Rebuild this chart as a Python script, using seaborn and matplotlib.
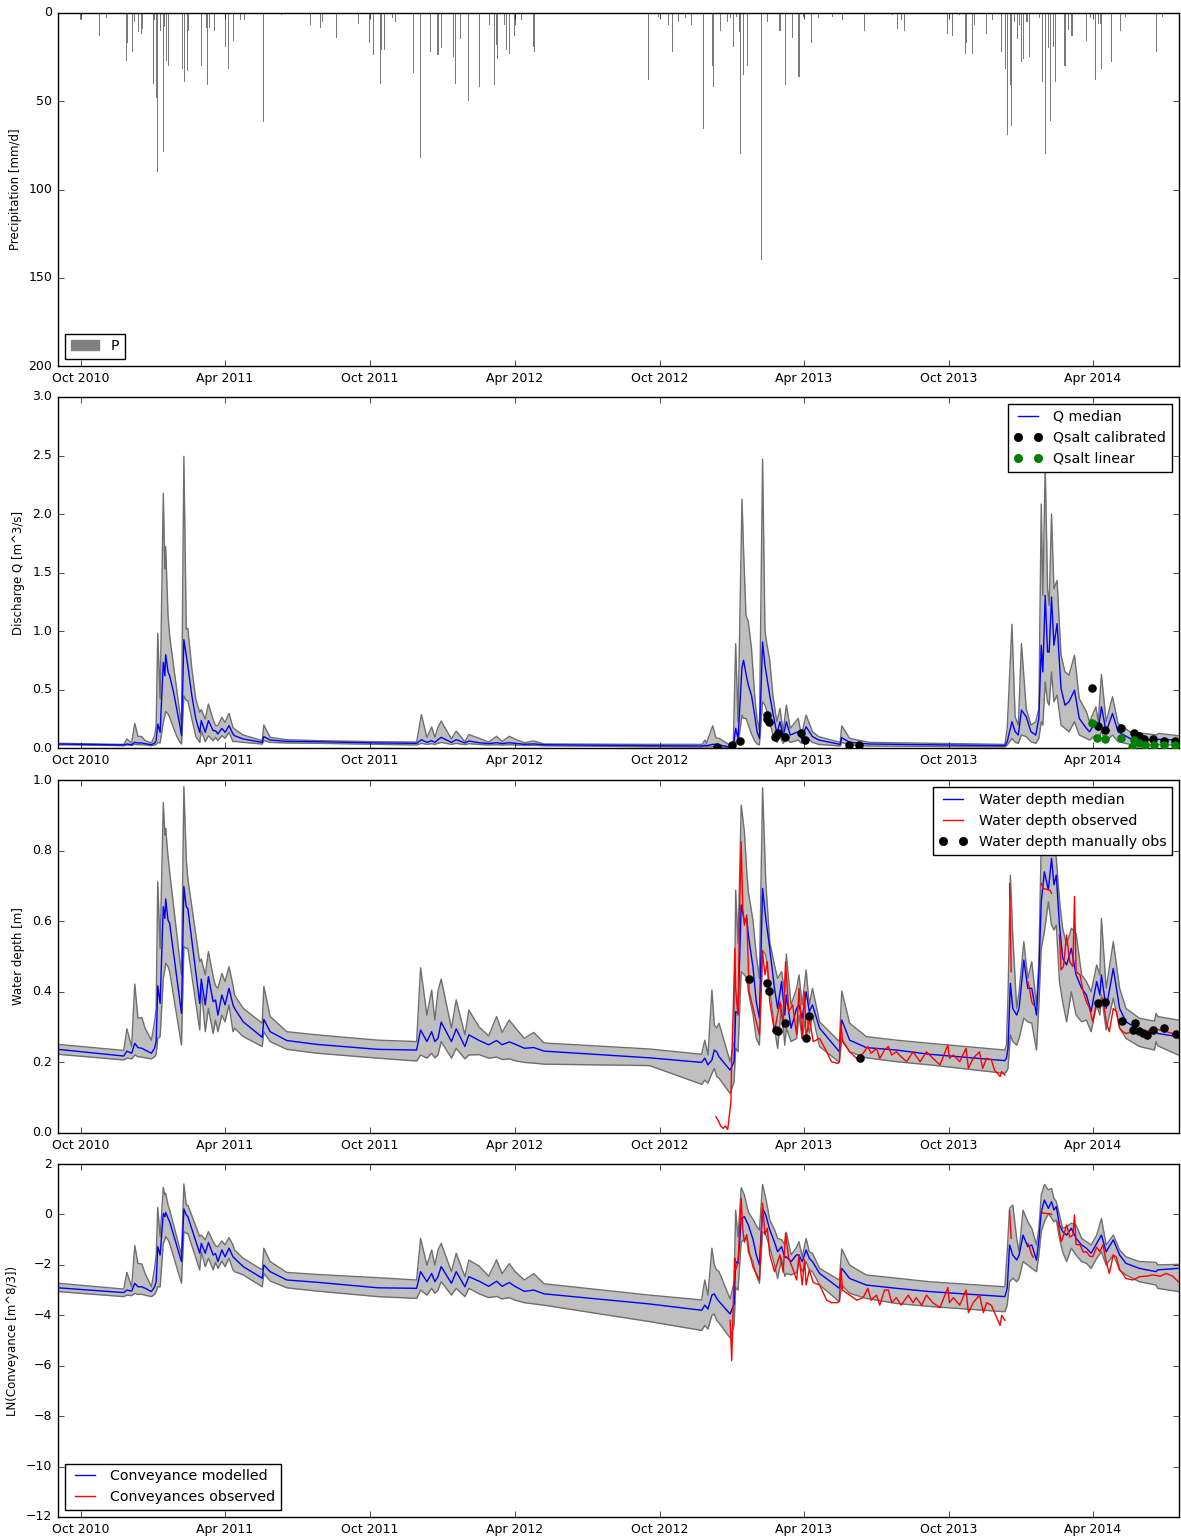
import numpy as np
import pandas as pd
import matplotlib
matplotlib.use("Agg")
import matplotlib.pyplot as plt
import matplotlib.dates as mdates
import matplotlib.ticker as mticker
from matplotlib.lines import Line2D
from matplotlib.patches import Patch
import seaborn as sns

plt.style.use("classic")
plt.rcParams.update({
    "figure.facecolor": "white",
    "savefig.facecolor": "white",
    "font.family": ["DejaVu Sans"],
    "font.size": 9,
    "xtick.labelsize": 9,
    "ytick.labelsize": 9,
    "legend.fontsize": 10.2,
})

# time axis: days counted from this reference date
DAY0 = pd.Timestamp("2010-09-01")
X_START, X_END = pd.Timestamp("2010-09-02"), pd.Timestamp("2014-07-19")

# ---------------- daily precipitation [mm/d] ----------------
P_DAY = [29, 53, 62, 87, 89, 95, 98, 103, 107, 108, 122, 123, 126, 127, 131, 134, 136, 138, 140,
         158, 161, 164, 166, 182, 189, 190, 192, 199, 212, 216, 223, 231, 236, 260, 283, 320, 333,
         335, 353, 381, 395, 400, 408, 410, 414, 424, 427, 450, 459, 472, 481, 482, 485, 501, 503,
         509, 520, 533, 546, 552, 555, 556, 565, 568, 571, 578, 579, 587, 602, 603,
         747, 760, 772, 777, 785, 794, 801, 816, 828, 829, 838, 847, 850, 854, 858, 862, 863, 867,
         872, 890, 897, 913, 920, 929, 937, 943, 953, 962, 979, 992, 1020, 1055, 1062, 1066, 1070,
         1124, 1131, 1140, 1147, 1148, 1156, 1159, 1174, 1182, 1193, 1198, 1200, 1204, 1205, 1206,
         1209, 1213, 1216, 1218, 1220, 1225, 1228, 1241, 1244, 1245, 1248, 1252, 1255, 1258, 1261,
         1273, 1274, 1277, 1281, 1283, 1300, 1305, 1312, 1315, 1318, 1319, 1332, 1343, 1350, 1388, 1396]
P_MM = [3.8, 13, 3, 27, 17, 22, 5, 11, 12, 9, 40, 4, 48, 90, 10, 79, 8, 27, 30,
        32, 39, 33, 10, 30, 8.5, 41, 8.5, 10, 19, 32, 16, 4, 4, 62, 1, 7, 8.5,
        5, 14, 6, 17, 24, 40, 21, 21, 3, 5, 34, 82, 22, 24, 6, 20, 25, 40,
        15, 50, 42, 7, 41, 18, 26, 7, 21, 23, 13, 7, 4, 19, 22,
        38, 2, 7, 22, 5, 3, 7, 66, 30, 42, 10, 5, 3, 19, 2, 11, 80, 35,
        30, 140, 5, 10, 41, 14, 36, 2, 17, 3, 2, 4, 10, 1, 9, 4, 10,
        12, 13, 1, 23, 17, 23, 7, 12, 4, 22, 32, 69, 41, 64, 51,
        5, 15, 7, 28, 26, 5, 25, 3, 27, 39, 80, 20, 61, 19, 39,
        30, 19, 9.5, 13, 13, 16, 3, 38, 6, 6, 32, 28, 10, 2, 22, 2]

# ---------------- discharge Q [m^3/s]: median and uncertainty band ----------------
Q_DAY = [1, 84, 88, 94, 98, 102, 107, 111, 119, 123,
         125, 127, 130, 134, 136, 137, 140, 142, 147, 151, 155, 157, 160,
         163, 165, 170, 175, 180, 182, 187, 191, 197, 200, 203, 208,
         212, 217, 222, 224, 235, 259, 261, 269, 290, 328,
         405, 454, 460, 467, 473, 477, 481, 485, 498, 504,
         515, 520, 533, 545, 555, 562, 571, 578, 590, 602,
         615, 748, 815, 818, 820, 828, 832, 836, 851, 854,
         857, 860, 865, 867, 870, 873, 877, 881, 884, 887, 891, 894, 896, 900, 904,
         909, 913, 917, 921, 926, 936, 940, 946, 954, 962,
         989, 991, 1001, 1026, 1197, 1200, 1206, 1210, 1214, 1218,
         1224, 1230, 1236, 1240, 1243, 1245, 1248, 1251, 1253, 1256,
         1259, 1263, 1268, 1273, 1278, 1285, 1291, 1300, 1304, 1312,
         1315, 1319, 1325, 1333, 1340, 1355, 1389, 1391, 1416]
Q_MED = [0.034, 0.026, 0.034, 0.028, 0.048, 0.043, 0.043, 0.037, 0.028, 0.043,
         0.063, 0.205, 0.134, 0.732, 0.618, 0.798, 0.652, 0.618, 0.475, 0.330, 0.190, 0.105, 0.926,
         0.789, 0.704, 0.450, 0.250, 0.134, 0.234, 0.134, 0.234, 0.148, 0.148, 0.120, 0.168,
         0.134, 0.191, 0.120, 0.105, 0.077, 0.048, 0.097, 0.068, 0.057, 0.054,
         0.043, 0.040, 0.071, 0.048, 0.063, 0.048, 0.071, 0.091, 0.048, 0.071,
         0.043, 0.060, 0.045, 0.038, 0.045, 0.038, 0.045, 0.040, 0.032, 0.035,
         0.028, 0.020, 0.017, 0.023, 0.020, 0.031, 0.031, 0.026, 0.006, 0.014,
         0.168, 0.082, 0.693, 0.750, 0.636, 0.537, 0.450, 0.280, 0.140, 0.082, 0.906, 0.707, 0.622, 0.450, 0.300,
         0.125, 0.224, 0.097, 0.224, 0.111, 0.139, 0.082, 0.182, 0.097, 0.068,
         0.031, 0.088, 0.048, 0.034, 0.020, 0.054, 0.224, 0.139, 0.111, 0.324,
         0.267, 0.139, 0.111, 0.253, 0.878, 0.651, 1.304, 0.821, 0.821, 1.290,
         0.878, 1.063, 0.509, 0.366, 0.395, 0.494, 0.253, 0.168, 0.139, 0.224,
         0.153, 0.352, 0.139, 0.295, 0.139, 0.082, 0.068, 0.074, 0.068]
Q_LO = [0.028, 0.020, 0.026, 0.023, 0.031, 0.028, 0.028, 0.026, 0.020, 0.026,
        0.031, 0.048, 0.043, 0.219, 0.276, 0.311, 0.291, 0.262, 0.170, 0.100, 0.050, 0.034, 0.447,
        0.405, 0.405, 0.250, 0.100, 0.048, 0.148, 0.054, 0.105, 0.063, 0.091, 0.063, 0.105,
        0.083, 0.134, 0.054, 0.057, 0.048, 0.034, 0.063, 0.048, 0.043, 0.040,
        0.031, 0.026, 0.040, 0.031, 0.037, 0.031, 0.040, 0.048, 0.031, 0.040,
        0.028, 0.037, 0.030, 0.026, 0.028, 0.025, 0.028, 0.026, 0.022, 0.023,
        0.019, 0.011, 0.009, 0.011, 0.009, 0.011, 0.011, 0.009, 0.003, 0.006,
        0.054, 0.031, 0.281, 0.253, 0.253, 0.196, 0.120, 0.060, 0.035, 0.026, 0.395, 0.366, 0.324, 0.220, 0.120,
        0.048, 0.097, 0.040, 0.082, 0.048, 0.068, 0.040, 0.097, 0.048, 0.031,
        0.017, 0.048, 0.026, 0.017, 0.009, 0.026, 0.082, 0.048, 0.040, 0.111,
        0.097, 0.054, 0.040, 0.082, 0.224, 0.196, 0.565, 0.395, 0.366, 0.651,
        0.395, 0.452, 0.196, 0.168, 0.139, 0.224, 0.111, 0.082, 0.068, 0.111,
        0.068, 0.139, 0.054, 0.111, 0.054, 0.031, 0.026, 0.028, 0.026]
Q_HI = [0.040, 0.031, 0.077, 0.043, 0.211, 0.100, 0.097, 0.063, 0.043, 0.105,
        0.190, 0.980, 0.419, 2.177, 1.530, 1.721, 1.131, 0.960, 0.700, 0.500, 0.290, 0.191, 2.493,
        1.017, 1.023, 0.680, 0.420, 0.305, 0.328, 0.248, 0.376, 0.242, 0.191, 0.191, 0.262,
        0.219, 0.296, 0.177, 0.162, 0.111, 0.063, 0.197, 0.091, 0.071, 0.063,
        0.054, 0.051, 0.285, 0.091, 0.180, 0.091, 0.177, 0.230, 0.077, 0.145,
        0.054, 0.115, 0.083, 0.050, 0.100, 0.055, 0.100, 0.077, 0.045, 0.060,
        0.035, 0.031, 0.031, 0.068, 0.040, 0.190, 0.088, 0.082, 0.020, 0.026,
        0.892, 0.224, 2.128, 1.688, 1.134, 1.077, 0.850, 0.450, 0.250, 0.153, 2.469, 1.006, 0.906, 0.750, 0.450,
        0.224, 0.338, 0.139, 0.366, 0.168, 0.253, 0.111, 0.281, 0.139, 0.097,
        0.048, 0.190, 0.082, 0.048, 0.031, 0.168, 1.057, 0.267, 0.196, 0.892,
        0.338, 0.196, 0.224, 0.338, 2.085, 1.304, 2.412, 1.361, 1.219, 2.000,
        1.361, 1.432, 0.793, 0.651, 0.622, 0.793, 0.423, 0.310, 0.224, 0.352,
        0.224, 0.628, 0.224, 0.438, 0.210, 0.139, 0.111, 0.125, 0.105]

# salt-dilution gaugings
QC_DAY = [834, 852, 862, 896, 897, 899, 907, 911, 919, 939, 945, 1000, 1013,
          1307, 1315, 1324, 1344, 1360, 1366, 1373, 1384, 1398, 1412]
QC_VAL = [0.006, 0.026, 0.060, 0.280, 0.250, 0.220, 0.090, 0.130, 0.090, 0.130, 0.070, 0.026, 0.026,
          0.510, 0.190, 0.150, 0.170, 0.130, 0.105, 0.080, 0.074, 0.060, 0.060]
QL_DAY = [1307, 1313, 1324, 1344, 1357, 1360, 1367, 1374, 1385, 1398, 1412]
QL_VAL = [0.216, 0.088, 0.074, 0.082, 0.011, 0.068, 0.045, 0.026, 0.026, 0.026, 0.026]

# ---------------- water depth [m] ----------------
H_DAY = [1, 84, 88, 94, 98, 102, 107, 111, 119, 123,
         125, 127, 130, 134, 136, 137, 140, 142, 157, 160,
         163, 165, 180, 182, 187, 191, 197, 200, 203, 208,
         212, 217, 222, 224, 235, 259, 261, 269, 290, 328,
         405, 454, 459, 467, 473, 477, 481, 485, 498, 504,
         515, 520, 533, 545, 555, 562, 571, 578, 590, 602,
         615, 748, 814, 818, 822, 827, 830, 833, 836, 850,
         855, 857, 860, 864, 868, 871, 873, 879, 883, 887, 891, 895,
         900, 906, 910, 915, 919, 921, 927, 934, 937, 941, 946, 950,
         954, 963, 988, 991, 1001, 1022, 1060, 1102, 1197, 1199,
         1201, 1204, 1207, 1212, 1215, 1221, 1226, 1231, 1237, 1240,
         1243, 1247, 1252, 1256, 1259, 1262, 1266, 1270, 1275, 1281,
         1287, 1294, 1300, 1306, 1313, 1317, 1319, 1325, 1334, 1342,
         1350, 1367, 1386, 1388, 1390, 1416]
H_MED = [0.237, 0.218, 0.232, 0.226, 0.254, 0.242, 0.240, 0.235, 0.226, 0.240,
         0.259, 0.417, 0.367, 0.641, 0.608, 0.663, 0.603, 0.594, 0.339, 0.698,
         0.641, 0.636, 0.367, 0.436, 0.363, 0.443, 0.372, 0.377, 0.334, 0.391,
         0.363, 0.410, 0.363, 0.353, 0.315, 0.271, 0.322, 0.287, 0.262, 0.251,
         0.237, 0.235, 0.292, 0.259, 0.287, 0.259, 0.268, 0.314, 0.259, 0.295,
         0.245, 0.278, 0.262, 0.250, 0.262, 0.250, 0.258, 0.252, 0.240, 0.242,
         0.232, 0.213, 0.200, 0.212, 0.193, 0.207, 0.235, 0.230, 0.216, 0.178,
         0.202, 0.344, 0.339, 0.646, 0.599, 0.608, 0.561, 0.467, 0.372, 0.325, 0.693, 0.608,
         0.523, 0.410, 0.353, 0.429, 0.334, 0.391, 0.297, 0.353, 0.363, 0.325, 0.400, 0.344,
         0.363, 0.297, 0.230, 0.320, 0.263, 0.242, 0.235, 0.223, 0.205, 0.212,
         0.240, 0.424, 0.353, 0.334, 0.353, 0.490, 0.410, 0.410, 0.334, 0.457,
         0.655, 0.740, 0.688, 0.778, 0.703, 0.731, 0.589, 0.495, 0.476, 0.523,
         0.448, 0.410, 0.391, 0.344, 0.429, 0.391, 0.448, 0.353, 0.466, 0.353,
         0.315, 0.292, 0.282, 0.289, 0.282, 0.273]
H_LO = [0.223, 0.207, 0.212, 0.210, 0.221, 0.216, 0.215, 0.213, 0.210, 0.216,
        0.223, 0.268, 0.273, 0.438, 0.462, 0.481, 0.471, 0.457, 0.249, 0.528,
        0.523, 0.523, 0.292, 0.410, 0.287, 0.353, 0.282, 0.320, 0.287, 0.334,
        0.315, 0.363, 0.287, 0.297, 0.273, 0.245, 0.287, 0.259, 0.237, 0.226,
        0.212, 0.204, 0.221, 0.212, 0.226, 0.213, 0.221, 0.259, 0.212, 0.240,
        0.210, 0.221, 0.222, 0.212, 0.215, 0.208, 0.210, 0.205, 0.200, 0.198,
        0.195, 0.191, 0.138, 0.150, 0.141, 0.169, 0.183, 0.160, 0.155, 0.112,
        0.145, 0.240, 0.230, 0.457, 0.448, 0.438, 0.400, 0.334, 0.268, 0.249, 0.518, 0.504,
        0.410, 0.297, 0.240, 0.363, 0.249, 0.297, 0.259, 0.268, 0.334, 0.268, 0.334, 0.282,
        0.334, 0.245, 0.200, 0.268, 0.230, 0.213, 0.202, 0.193, 0.169, 0.174,
        0.183, 0.278, 0.259, 0.249, 0.268, 0.325, 0.315, 0.311, 0.235, 0.363,
        0.523, 0.570, 0.655, 0.589, 0.575, 0.589, 0.429, 0.372, 0.315, 0.400,
        0.334, 0.315, 0.320, 0.287, 0.363, 0.334, 0.391, 0.292, 0.382, 0.297,
        0.268, 0.245, 0.235, 0.259, 0.247, 0.221]
H_HI = [0.251, 0.234, 0.295, 0.245, 0.422, 0.325, 0.327, 0.297, 0.263, 0.315,
        0.353, 0.712, 0.523, 0.936, 0.844, 0.863, 0.783, 0.740, 0.448, 0.981,
        0.778, 0.720, 0.485, 0.493, 0.448, 0.514, 0.443, 0.417, 0.410, 0.452,
        0.429, 0.471, 0.419, 0.391, 0.353, 0.311, 0.415, 0.330, 0.287, 0.278,
        0.263, 0.259, 0.468, 0.334, 0.405, 0.320, 0.402, 0.436, 0.297, 0.377,
        0.278, 0.348, 0.300, 0.275, 0.330, 0.285, 0.320, 0.300, 0.268, 0.285,
        0.255, 0.238, 0.223, 0.263, 0.221, 0.405, 0.306, 0.297, 0.311, 0.202,
        0.259, 0.688, 0.537, 0.929, 0.854, 0.740, 0.684, 0.600, 0.504, 0.438, 0.978, 0.712,
        0.542, 0.476, 0.438, 0.457, 0.400, 0.507, 0.363, 0.410, 0.448, 0.363, 0.462, 0.363,
        0.410, 0.315, 0.259, 0.402, 0.311, 0.273, 0.263, 0.254, 0.235, 0.249,
        0.386, 0.731, 0.561, 0.353, 0.400, 0.542, 0.438, 0.485, 0.363, 0.485,
        0.825, 0.920, 0.872, 0.901, 0.825, 0.778, 0.660, 0.580, 0.533, 0.580,
        0.566, 0.448, 0.429, 0.400, 0.476, 0.448, 0.608, 0.410, 0.542, 0.410,
        0.353, 0.325, 0.317, 0.339, 0.330, 0.320]

# logger water depth (NaN marks a gap in the record)
HO_DAY = [832, 835, 838, 841, 844, 847, 851, 852, 854, 856,
          857, 859, 860, 862, 864, 866, 868, 871, 874, 879,
          887, 891, 894, 897, 900, 906, 913, 917, 920, 924,
          929, 934, 937, 941, 944, 946, 950, 955, 963, 972,
          978, 986, 988, 990, 992, 1001, 1010, 1018, 1024, 1028,
          1035, 1039, 1045, 1050, 1054, 1060, 1066, 1073, 1081, 1090,
          1098, 1106, 1115, 1125, 1127, 1132, 1140, 1148, 1151, 1157,
          1165, 1169, 1174, 1180, 1184, 1191, 1193, 1197, 1200, 1203,
          1205, 1215, 1226, 1228, 1231, 1233, 1238, 1243, 1245, 1254,
          1256, 1260, 1266, 1268, 1271, 1275, 1279, 1283, 1285, 1287,
          1292, 1296, 1300, 1304, 1308, 1313, 1317, 1321, 1325, 1329,
          1334, 1338, 1342, 1346, 1350, 1359, 1367, 1376, 1384, 1393,
          1401, 1409, 1416]
HO_VAL = [0.046, 0.035, 0.020, 0.013, 0.020, 0.010, 0.089, 0.212, 0.353, 0.523,
          0.410, 0.353, 0.334, 0.636, 0.825, 0.636, 0.589, 0.618, 0.400, 0.353,
          0.278, 0.514, 0.448, 0.485, 0.372, 0.287, 0.372, 0.297, 0.485, 0.344,
          0.363, 0.278, 0.410, 0.268, 0.400, 0.268, 0.325, 0.259, 0.268, 0.230,
          0.202, 0.197, 0.202, 0.315, 0.259, 0.230, 0.211, 0.226, 0.245, 0.226,
          0.240, 0.211, 0.235, 0.245, 0.221, 0.230, 0.216, 0.202, 0.230, 0.202,
          0.230, 0.212, 0.193, 0.249, 0.212, 0.221, 0.202, 0.240, 0.183, 0.212,
          0.230, 0.183, 0.212, 0.207, 0.178, 0.160, 0.174, 0.164, np.nan, 0.707,
          0.457, np.nan, 0.429, 0.410, 0.372, 0.363, np.nan, 0.707, 0.693, 0.688,
          0.679, np.nan, 0.561, 0.462, 0.471, 0.561, 0.485, 0.471, 0.670, 0.457,
          0.448, 0.400, 0.372, 0.353, 0.315, 0.372, 0.353, 0.382, 0.315, 0.287,
          0.353, 0.344, 0.297, 0.287, 0.282, 0.287, 0.292, 0.287, 0.297, 0.292,
          0.287, 0.282, 0.268]

# manual staff-gauge readings
HM_DAY = [874, 897, 899, 908, 911, 919, 946, 949, 1014, 1315,
          1324, 1345, 1359, 1361, 1366, 1372, 1377, 1384, 1398, 1413]
HM_VAL = [0.436, 0.424, 0.402, 0.292, 0.289, 0.313, 0.270, 0.331, 0.213, 0.369,
          0.372, 0.317, 0.292, 0.311, 0.289, 0.284, 0.278, 0.292, 0.298, 0.280]

# ---------------- ln(conveyance) [m^8/3] ----------------
K_DAY = [1, 84, 88, 94, 98, 102, 107, 111, 119, 123,
         125, 127, 130, 134, 136, 137, 140, 142, 157, 160,
         163, 165, 180, 182, 187, 191, 197, 200, 203, 208,
         212, 217, 222, 224, 235, 259, 261, 269, 290, 328,
         405, 454, 459, 467, 473, 477, 481, 485, 498, 504,
         515, 520, 533, 545, 555, 562, 571, 578, 590, 602,
         615, 748, 814, 818, 822, 827, 830, 833, 836, 850,
         855, 857, 860, 864, 868, 871, 873, 879, 883, 887, 891, 895,
         900, 906, 910, 915, 919, 921, 927, 934, 937, 941, 946, 950,
         954, 963, 988, 991, 1001, 1022, 1060, 1102, 1197, 1200,
         1203, 1207, 1212, 1215, 1220, 1226, 1231, 1237, 1240, 1243,
         1247, 1252, 1256, 1259, 1262, 1266, 1270, 1275, 1281, 1287,
         1294, 1300, 1306, 1313, 1319, 1325, 1334, 1342, 1350, 1367,
         1388, 1390, 1416]
K_MED = [-2.91, -3.10, -3.00, -3.04, -2.73, -2.87, -2.87, -2.93, -3.06, -2.87,
         -2.67, -1.28, -1.61, 0.04, -0.09, 0.08, -0.15, -0.29, -1.87, 0.22,
         -0.02, -0.09, -1.54, -1.15, -1.54, -1.11, -1.61, -1.55, -1.87, -1.41,
         -1.68, -1.34, -1.68, -1.74, -2.07, -2.53, -2.01, -2.27, -2.60, -2.69,
         -2.91, -2.93, -2.27, -2.67, -2.34, -2.67, -2.47, -2.07, -2.73, -2.27,
         -2.87, -2.47, -2.65, -2.85, -2.65, -2.85, -2.70, -2.85, -3.05, -3.00,
         -3.15, -3.55, -3.80, -3.60, -3.75, -3.20, -3.15, -3.33, -3.45, -3.95,
         -3.55, -1.87, -1.95, -0.16, -0.09, -0.29, -0.42, -1.00, -1.60, -2.00, 0.24, -0.02,
         -0.60, -1.10, -1.48, -1.28, -1.70, -1.68, -1.87, -1.60, -1.61, -1.87, -1.41, -1.74,
         -1.87, -2.34, -2.93, -2.14, -2.54, -2.80, -2.93, -3.06, -3.26, -2.93,
         -1.21, -1.61, -1.81, -1.61, -0.82, -1.28, -1.21, -1.81, -1.01, 0.11,
         0.57, 0.24, 0.51, 0.18, 0.31, -0.42, -0.68, -0.82, -0.55, -0.95,
         -1.21, -1.34, -1.54, -1.15, -0.82, -1.48, -1.01, -1.61, -1.94, -2.14,
         -2.27, -2.20, -2.14]
K_LO = [-3.06, -3.26, -3.20, -3.22, -3.13, -3.17, -3.17, -3.20, -3.26, -3.17,
        -3.06, -2.87, -2.87, -1.15, -1.01, -0.88, -1.01, -1.15, -2.73, -0.68,
        -0.75, -0.75, -2.20, -1.48, -2.07, -1.74, -2.20, -1.90, -2.14, -1.85,
        -2.07, -1.74, -2.20, -2.27, -2.40, -2.87, -2.34, -2.64, -2.91, -3.04,
        -3.26, -3.33, -3.00, -3.20, -2.93, -3.13, -3.00, -2.67, -3.20, -2.93,
        -3.26, -2.93, -3.15, -3.30, -3.25, -3.35, -3.30, -3.40, -3.50, -3.55,
        -3.60, -4.25, -4.60, -4.40, -4.55, -4.00, -3.95, -4.20, -4.30, -4.90,
        -4.40, -2.90, -3.00, -1.08, -1.00, -0.95, -1.50, -1.90, -2.40, -2.73, -0.68, -0.80,
        -1.30, -2.00, -2.54, -1.75, -2.45, -2.34, -2.40, -2.30, -1.88, -2.27, -1.88, -2.20,
        -2.27, -2.80, -3.46, -2.80, -3.13, -3.33, -3.53, -3.65, -3.86, -3.60,
        -2.67, -2.53, -2.67, -2.53, -1.87, -2.01, -2.14, -2.27, -1.61, -0.68,
        -0.29, 0.04, -0.15, -0.29, -0.22, -0.95, -1.48, -1.87, -1.34, -1.61,
        -1.87, -1.94, -2.14, -1.74, -1.48, -2.01, -1.61, -2.20, -2.40, -2.67,
        -2.80, -2.93, -3.06]
K_HI = [-2.73, -2.96, -2.30, -2.87, -1.24, -1.94, -1.97, -2.34, -2.87, -2.14,
        -1.61, 0.28, -0.88, 1.07, 0.77, 0.84, 0.37, 0.18, -1.61, 1.21,
        0.37, 0.37, -0.88, -0.82, -1.01, -0.68, -1.08, -1.25, -1.28, -1.05,
        -1.21, -0.92, -1.21, -1.41, -1.74, -2.20, -1.34, -1.87, -2.30, -2.38,
        -2.51, -2.60, -0.95, -2.01, -1.41, -2.01, -1.41, -1.15, -2.27, -1.54,
        -2.47, -1.81, -2.05, -2.45, -1.80, -2.35, -1.95, -2.25, -2.60, -2.35,
        -2.75, -3.20, -3.39, -2.60, -3.20, -1.34, -2.00, -2.20, -2.27, -3.35,
        -2.70, 0.17, -0.90, 1.06, 0.77, 0.37, 0.10, -0.20, -0.45, -0.62, 1.19, 0.64,
        -0.20, -0.60, -0.95, -1.00, -1.20, -0.71, -1.60, -1.30, -1.08, -1.68, -0.95, -1.48,
        -1.54, -2.14, -2.60, -1.37, -2.01, -2.40, -2.53, -2.67, -2.87, -1.48,
        0.24, 0.37, -0.95, -1.48, 0.17, -0.29, -0.55, -1.21, -0.55, 0.77,
        1.19, 0.97, 1.03, 0.64, 0.51, -0.02, -0.55, -0.49, -0.35, -0.42,
        -0.95, -1.08, -1.21, -0.82, -0.16, -1.21, -0.82, -1.41, -1.68, -1.87,
        -1.90, -2.00, -1.98]

# conveyance derived from observed depth (NaN marks a gap)
KO_DAY = [850, 852, 854, 856, 857, 860, 864, 866, 868, 871,
          874, 879, 887, 891, 894, 897, 900, 906, 913, 917,
          920, 924, 929, 934, 937, 941, 944, 946, 950, 955,
          963, 972, 978, 986, 988, 990, 992, 1001, 1010, 1018,
          1024, 1028, 1035, 1039, 1045, 1050, 1054, 1060, 1066, 1075,
          1081, 1085, 1092, 1098, 1106, 1115, 1125, 1127, 1132, 1140,
          1148, 1151, 1157, 1165, 1170, 1174, 1180, 1184, 1191, 1193,
          1197, 1200, 1203, 1205, 1215, 1226, 1228, 1231, 1233, 1238,
          1243, 1245, 1254, 1256, 1260, 1264, 1268, 1270, 1275, 1279,
          1283, 1285, 1287, 1292, 1296, 1300, 1304, 1308, 1313, 1317,
          1321, 1325, 1329, 1334, 1338, 1342, 1346, 1350, 1359, 1367,
          1376, 1384, 1393, 1401, 1409, 1416]
KO_VAL = [-4.20, -5.80, -3.50, -1.74, -2.20, -1.90, 0.64, -0.60, -1.10, -0.80,
          -1.48, -2.10, -2.60, 0.44, -0.80, -0.55, -1.60, -2.27, -1.60, -2.30,
          -0.75, -1.74, -2.14, -2.60, -1.60, -2.80, -1.80, -2.80, -2.20, -2.70,
          -2.80, -3.40, -3.50, -3.50, -3.40, -2.14, -3.00, -3.20, -3.40, -3.30,
          -2.93, -3.40, -3.20, -3.60, -3.00, -3.00, -3.50, -3.30, -3.60, -3.20,
          -3.50, -3.30, -3.60, -3.20, -3.50, -3.70, -2.90, -3.50, -3.30, -3.60,
          -3.00, -3.90, -3.50, -3.20, -3.90, -3.50, -3.60, -3.90, -4.40, -4.00,
          -4.20, np.nan, 0.13, -0.95, np.nan, -1.15, -1.30, -1.60, -1.70, np.nan,
          0.13, 0.05, 0.03, 0.00, np.nan, -0.30, -1.08, -0.95, -0.42, -0.90,
          -0.82, -0.02, -1.20, -1.20, -1.50, -1.48, -1.65, -1.68, -1.30, -1.48,
          -1.20, -1.87, -2.34, -1.61, -1.70, -2.20, -2.35, -2.54, -2.60, -2.47,
          -2.45, -2.40, -2.45, -2.34, -2.45, -2.67]


def to_dates(days):
    return DAY0 + pd.to_timedelta(np.asarray(days, dtype=float), unit="D")


def band_frame(days, med, lo, hi):
    return pd.DataFrame({"date": to_dates(days), "med": med, "lo": lo, "hi": hi})


def gap_frame(days, vals):
    df = pd.DataFrame({"date": to_dates(days), "val": np.asarray(vals, dtype=float)})
    df["seg"] = df["val"].isna().cumsum()
    return df.dropna()


BAND_FILL = "#bfbfbf"
BAND_EDGE = "#6f6f6f"


def draw_band(ax, df):
    ax.fill_between(df["date"], df["lo"], df["hi"], color=BAND_FILL, lw=0, zorder=1)
    for col in ("lo", "hi"):
        sns.lineplot(data=df, x="date", y=col, color=BAND_EDGE, lw=1.0, ax=ax,
                     legend=False, zorder=2, sort=False)
    sns.lineplot(data=df, x="date", y="med", color="b", lw=1.0, ax=ax,
                 legend=False, zorder=3, sort=False)


def draw_gappy(ax, df, color):
    sns.lineplot(data=df, x="date", y="val", units="seg", estimator=None,
                 color=color, lw=1.0, ax=ax, legend=False, zorder=4, sort=False)


def style_axis(ax, ylabel, ylim, yticks):
    ax.set_xlim(X_START, X_END)
    ax.set_ylim(*ylim)
    ax.set_yticks(yticks)
    ax.xaxis.set_major_locator(mdates.MonthLocator(bymonth=(4, 10)))
    ax.xaxis.set_major_formatter(mdates.DateFormatter("%b %Y"))
    ax.set_xlabel("")
    ax.set_ylabel(ylabel, fontsize=8.5)
    ax.tick_params(direction="in", top=True, right=True, length=4)


fig = plt.figure(figsize=(11.81, 15.36), dpi=100)
L, W = 58 / 1181, (1179 - 58) / 1181


def add_panel(top_px, bottom_px):
    return fig.add_axes([L, 1 - bottom_px / 1536, W, (bottom_px - top_px) / 1536])


ax1 = add_panel(13, 366)
ax2 = add_panel(397, 748)
ax3 = add_panel(780, 1133)
ax4 = add_panel(1164, 1517)

dot = dict(s=38, linewidth=0, zorder=6)

# precipitation
ax1.bar(to_dates(P_DAY), P_MM, width=1.3, color="#7a7a7a", linewidth=0, zorder=2)
style_axis(ax1, "Precipitation [mm/d]", (200, 0), np.arange(0, 201, 50))
ax1.legend(handles=[Patch(facecolor="grey", edgecolor="grey")], labels=["P"],
           loc="lower left", fancybox=False)

# discharge
draw_band(ax2, band_frame(Q_DAY, Q_MED, Q_LO, Q_HI))
sns.scatterplot(x=to_dates(QC_DAY), y=QC_VAL, color="k", ax=ax2, **dot)
sns.scatterplot(x=to_dates(QL_DAY), y=QL_VAL, color="g", ax=ax2, **dot)
style_axis(ax2, "Discharge Q [m^3/s]", (0, 3.0), np.arange(0, 3.01, 0.5))
ax2.yaxis.set_major_formatter(mticker.FormatStrFormatter("%.1f"))
ax2.legend(handles=[Line2D([], [], color="b"),
                    Line2D([], [], ls="none", marker="o", color="k", mec="k", ms=6),
                    Line2D([], [], ls="none", marker="o", color="g", mec="g", ms=6)],
           labels=["Q median", "Qsalt calibrated", "Qsalt linear"],
           loc="upper right", numpoints=2, fancybox=False)

# water depth
draw_band(ax3, band_frame(H_DAY, H_MED, H_LO, H_HI))
draw_gappy(ax3, gap_frame(HO_DAY, HO_VAL), "r")
sns.scatterplot(x=to_dates(HM_DAY), y=HM_VAL, color="k", ax=ax3, **dot)
style_axis(ax3, "Water depth [m]", (0, 1.0), np.arange(0, 1.01, 0.2))
ax3.yaxis.set_major_formatter(mticker.FormatStrFormatter("%.1f"))
ax3.legend(handles=[Line2D([], [], color="b"), Line2D([], [], color="r"),
                    Line2D([], [], ls="none", marker="o", color="k", mec="k", ms=6)],
           labels=["Water depth median", "Water depth observed", "Water depth manually obs"],
           loc="upper right", numpoints=2, fancybox=False)

# conveyance
draw_band(ax4, band_frame(K_DAY, K_MED, K_LO, K_HI))
draw_gappy(ax4, gap_frame(KO_DAY, KO_VAL), "r")
style_axis(ax4, "LN(Conveyance [m^8/3])", (-12, 2), np.arange(-12, 2.1, 2))
ax4.legend(handles=[Line2D([], [], color="b"), Line2D([], [], color="r")],
           labels=["Conveyance modelled", "Conveyances observed"],
           loc="lower left", fancybox=False)

fig.savefig("out.png", dpi=100)
